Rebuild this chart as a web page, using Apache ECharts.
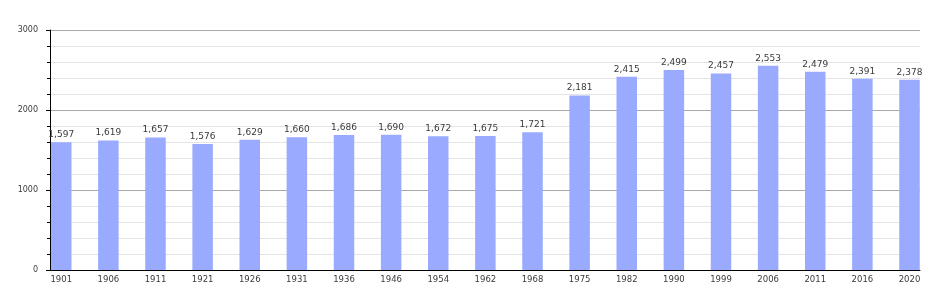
<!DOCTYPE html>
<html><head><meta charset="utf-8">
<script src="https://cdn.jsdelivr.net/npm/echarts@6/dist/echarts.min.js"></script>
<style>html,body{margin:0;padding:0;background:#fff}#c{width:950px;height:300px}</style>
</head><body><div id="c"></div>
<script>
const years = ['1901','1906','1911','1921','1926','1931','1936','1946','1954','1962','1968','1975','1982','1990','1999','2006','2011','2016','2020'];
const population = [1597,1619,1657,1576,1629,1660,1686,1690,1672,1675,1721,2181,2415,2499,2457,2553,2479,2391,2378];
const yTicks = {min:0, max:3000, step:1000};

const font = 'DejaVu Sans';
const chart = echarts.init(document.getElementById('c'), null, {renderer:'canvas'});
chart.setOption({
  animation:false,
  grid:[
    {left:50, right:30, top:30, bottom:30},
    {left:61.25, right:40.5, top:30, bottom:30}
  ],
  xAxis:[
    {gridIndex:0, type:'value', min:0, max:1, axisLabel:{show:false}, axisTick:{show:false}, splitLine:{show:false},
     axisLine:{show:true, onZero:false, lineStyle:{color:'#000', width:1}}},
    {gridIndex:1, type:'category', data:years, boundaryGap:false,
     axisLine:{show:false}, axisTick:{show:false}, splitLine:{show:false},
     axisLabel:{interval:0, margin:5, fontFamily:font, fontSize:8.5, color:'#3a3a3a'}}
  ],
  yAxis:[
    {gridIndex:0, type:'value', min:yTicks.min, max:yTicks.max, interval:yTicks.step,
     axisLine:{show:true, lineStyle:{color:'#000', width:1}},
     axisTick:{show:true, length:4, lineStyle:{color:'#000'}},
     minorTick:{show:true, splitNumber:5, length:3, lineStyle:{color:'#000'}},
     splitLine:{show:true, lineStyle:{color:'#aaaaaa', width:1}},
     minorSplitLine:{show:true, lineStyle:{color:'#e4e4e4', width:1}},
     axisLabel:{margin:12, fontFamily:font, fontSize:8, color:'#3a3a3a', formatter:v=>String(v)}},
    {gridIndex:1, type:'value', min:yTicks.min, max:yTicks.max, show:false, splitLine:{show:false}}
  ],
  series:[{
    type:'bar', xAxisIndex:1, yAxisIndex:1, data:population, barWidth:20.5, clip:false,
    itemStyle:{color:'#99aaff'},
    label:{show:true, position:'top', distance:3, fontFamily:font, fontSize:9, color:'#3a3a3a',
      formatter:p=>p.value.toLocaleString('en-US')}
  }]
});
</script></body></html>
